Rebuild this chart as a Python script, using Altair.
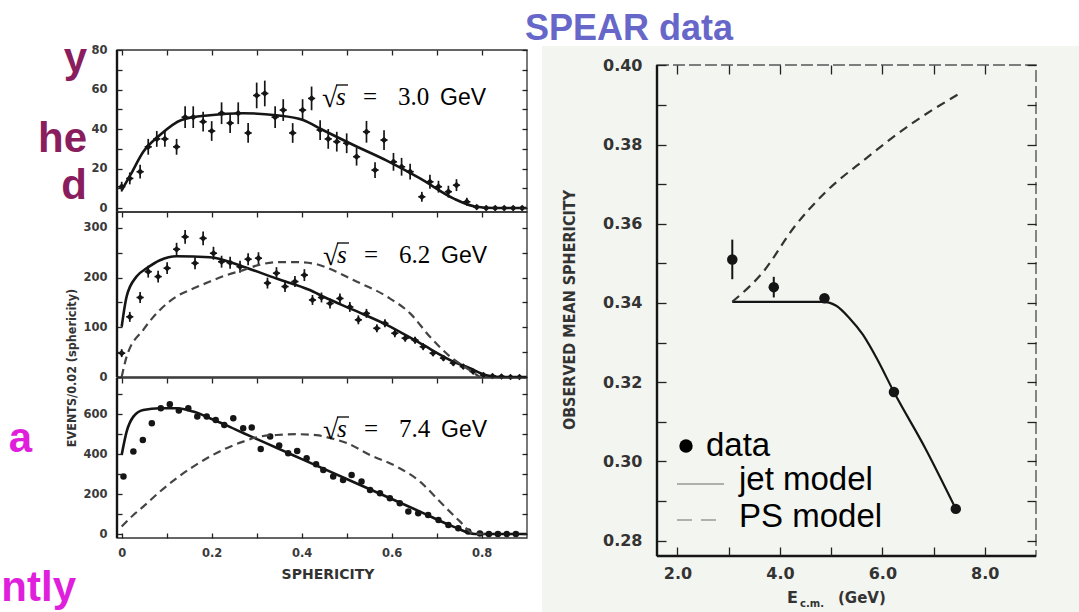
import altair as alt
import pandas as pd

W, H = 1079, 612

# ---------------- values ----------------
# left figure, panel 1: sqrt(s) = 3.0 GeV
p1_s = [0.0, 0.018, 0.041, 0.059, 0.078, 0.096, 0.122, 0.141, 0.159, 0.181, 0.2,
        0.222, 0.241, 0.259, 0.281, 0.3, 0.318, 0.341, 0.359, 0.38, 0.402,
        0.422, 0.441, 0.459, 0.478, 0.5, 0.522, 0.544, 0.563, 0.583, 0.604,
        0.622, 0.641, 0.667, 0.685, 0.704, 0.726, 0.744, 0.767, 0.789, 0.81,
        0.83, 0.85, 0.87, 0.89]
p1_n = [10.8, 15, 18.4, 31, 35, 35, 31, 46, 46, 43.7, 39,
        48, 43, 48, 38, 57, 58, 46, 49.6, 38, 49.6,
        55.5, 39.5, 35, 33.6, 32.8, 26, 38.6, 19.2, 34.4, 23.4,
        20.9, 18.4, 5.7, 13.3, 10.8, 8.3, 11.6, 3.2, 0.5, 0,
        0, 0, 0, 0]
p1_err = [2.5, 3, 3.5, 4, 4, 4, 4, 5.5, 5.5, 5, 5,
          5.5, 5, 5.5, 5, 6.5, 6.5, 5.5, 5.5, 5, 5.5,
          6, 5, 5, 5, 5, 4.5, 5.5, 4, 5, 4.5,
          4.5, 4, 2.5, 3.5, 3, 3, 3, 2, 1, 0,
          0, 0, 0, 0]
p1_jet_s = [0, 0.02, 0.048, 0.085, 0.133, 0.196, 0.27, 0.344, 0.403, 0.447, 0.515,
            0.589, 0.663, 0.737, 0.785, 0.83, 0.9]
p1_jet_n = [9, 17, 28.5, 37, 44.6, 47, 48, 47, 44.6, 39.5, 31.9,
            24, 15, 4.9, 0.8, 0, 0]

# panel 2: sqrt(s) = 6.2 GeV
p2_s = [0.0, 0.018, 0.041, 0.059, 0.081, 0.101, 0.122, 0.141, 0.163, 0.181, 0.204,
        0.222, 0.241, 0.263, 0.281, 0.304, 0.324, 0.344, 0.363, 0.385, 0.406,
        0.424, 0.444, 0.463, 0.485, 0.507, 0.526, 0.544, 0.567, 0.585, 0.607,
        0.63, 0.652, 0.67, 0.692, 0.715, 0.737, 0.759, 0.781, 0.804, 0.824,
        0.844, 0.864, 0.884]
p2_n = [48, 121, 160, 212, 202, 219, 257, 282, 229, 279, 249,
        232, 230, 222, 237, 239, 189, 209, 182, 192, 205,
        155, 160, 148, 158, 141, 115, 128, 98, 108, 88,
        78, 74, 61, 48, 38, 28, 21, 11, 4, 2,
        1, 0, 0]
p2_err = [8, 10, 11, 12, 12, 12, 13, 14, 12, 14, 13,
          12, 12, 12, 12, 12, 11, 12, 11, 11, 12,
          10, 10, 10, 10, 10, 9, 9, 8, 8, 8,
          7, 7, 7, 6, 6, 5, 4, 3, 2, 1,
          1, 0, 0]
p2_jet_s = [0, 0.011, 0.033, 0.056, 0.085, 0.122, 0.196, 0.27, 0.344, 0.418, 0.452,
            0.515, 0.589, 0.663, 0.737, 0.774, 0.808, 0.84, 0.9]
p2_jet_n = [101, 162, 202, 219, 235, 243, 241, 222, 198, 175, 160,
            135, 105, 68, 31, 17.5, 4, 0, 0]
p2_ps_s = [0, 0.011, 0.048, 0.085, 0.122, 0.159, 0.196, 0.233, 0.27, 0.307, 0.344,
           0.389, 0.433, 0.456, 0.515, 0.589, 0.641, 0.685, 0.73, 0.767, 0.796]
p2_ps_n = [0, 41, 95, 135, 162, 178, 192, 205, 215, 226, 231,
           231, 227, 220, 195, 162, 128, 81, 41, 17.5, 0]

# panel 3: sqrt(s) = 7.4 GeV
p3_s = [0.004, 0.026, 0.047, 0.067, 0.087, 0.107, 0.127, 0.148, 0.168, 0.189, 0.209,
        0.228, 0.248, 0.27, 0.289, 0.309, 0.33, 0.35, 0.37, 0.39, 0.411,
        0.432, 0.448, 0.47, 0.492, 0.511, 0.533, 0.552, 0.574, 0.596, 0.618,
        0.637, 0.659, 0.681, 0.704, 0.726, 0.748, 0.77, 0.796, 0.816, 0.836,
        0.856, 0.876]
p3_n = [287, 412, 470, 554, 629, 649, 617, 629, 587, 587, 570,
        545, 579, 529, 532, 425, 487, 442, 404, 415, 379,
        349, 320, 287, 270, 295, 262, 220, 204, 179, 154,
        112, 104, 95, 70, 45, 29, 12, 3, 0, 0,
        0, 0]
p3_jet_s = [0, 0.011, 0.026, 0.048, 0.085, 0.122, 0.159, 0.196, 0.233, 0.27, 0.307,
            0.344, 0.381, 0.418, 0.452, 0.515, 0.589, 0.663, 0.737, 0.785, 0.83, 0.9]
p3_jet_n = [395, 512, 587, 620, 629, 629, 612, 579, 543, 505, 468,
            431, 394, 357, 323, 260, 186, 112, 37, 0, 0, 0]
p3_ps_s = [0, 0.026, 0.048, 0.085, 0.122, 0.159, 0.196, 0.233, 0.27, 0.307, 0.344,
           0.389, 0.433, 0.463, 0.5, 0.552, 0.611, 0.663, 0.707, 0.752, 0.781, 0.807]
p3_ps_n = [37, 95, 137, 212, 279, 337, 387, 429, 462, 487, 495,
           499, 494, 480, 455, 395, 337, 262, 162, 62, 4, 0]

# right figure: observed mean sphericity vs E_cm
ecm = [3.07, 3.88, 4.87, 6.226, 7.434]
mean_sph = [0.351, 0.344, 0.3412, 0.3175, 0.288]
mean_err = [0.005, 0.0026, 0.001, 0.001, 0.0006]
jet_e = [3.07, 4.0, 4.85, 5.1, 5.35, 5.62, 5.9, 6.226, 6.83, 7.434]
jet_v = [0.3403, 0.3403, 0.3403, 0.3393, 0.3363, 0.3320, 0.3258, 0.3175, 0.3035, 0.288]
ps_e = [3.07, 3.676, 4.28, 4.884, 5.69, 6.562, 7.467]
ps_v = [0.3403, 0.3479, 0.3592, 0.3679, 0.3766, 0.3852, 0.3926]

# texts
energies = ["3.0", "6.2", "7.4"]
left_ytitle = "EVENTS/0.02 (sphericity)"
left_xtitle = "SPHERICITY"
right_ytitle = "OBSERVED  MEAN  SPHERICITY"
legend_labels = ["data", "jet model", "PS model"]
header = "SPEAR data"

# ---------------- helpers ----------------
one = pd.DataFrame({"k": [0]})
TICKFONT = "DejaVu Sans"
NARROW = "Liberation Sans Narrow, DejaVu Sans Condensed, Liberation Sans"
INK = "#151515"


def sc(dom, rng):
    return alt.Scale(domain=dom, range=rng, nice=False, zero=False)


def axis(orient, offset, values, tick, labels=False, expr="datum.label", pad=8,
         size=11, color="#3a3a3a"):
    kw = dict(orient=orient, offset=offset, values=values, tickSize=tick,
              domain=False, grid=False, title=None, tickColor="#222",
              tickWidth=1.3, labels=labels, zindex=2)
    if labels:
        kw.update(labelExpr=expr, labelPadding=pad, labelFont=TICKFONT,
                  labelFontSize=size, labelFontWeight="bold", labelColor=color,
                  labelOverlap=False, labelFlush=False, labelBound=False)
    return alt.Axis(**kw)


def txt(text, x, y, size, color="#000", font="Liberation Sans", weight="normal",
        align="left", style="normal", angle=None, baseline="alphabetic"):
    kw = dict(text=text, fontSize=size, color=color, font=font,
              fontWeight=weight, align=align, fontStyle=style, baseline=baseline)
    if angle is not None:
        kw["angle"] = angle
    return alt.Chart(one).mark_text(**kw).encode(x=alt.value(x), y=alt.value(y))


def hline(x1, x2, y, color, width, dash=None):
    kw = dict(color=color, strokeWidth=width)
    if dash:
        kw["strokeDash"] = dash
    return alt.Chart(one).mark_rule(**kw).encode(
        x=alt.value(x1), x2=alt.value(x2), y=alt.value(y))


layers = []

# background tint of the scanned right figure
layers.append(alt.Chart(one).mark_rect(color="#f3f5f0").encode(
    x=alt.value(542), x2=alt.value(W), y=alt.value(46), y2=alt.value(H)))

# ---------------- left figure ----------------
LXD = [-0.0104, 0.9007]
LXR = [117, 527]
XVALS = [0, 0.1, 0.2, 0.3, 0.4, 0.5, 0.6, 0.7, 0.8]
XEXPR = ("round(datum.value*10) % 2 == 0 ? (datum.value == 0 ? '0' : "
         "format(datum.value, '.1f')) : ''")


def panel(ydom, yrng, yvals, yexpr, s, n, err, js, jn, pss=None, psn=None,
          bottom=False, shape="diamond", psize=45):
    out = []
    xs = sc(LXD, LXR)
    ys = sc(ydom, yrng)
    bot_px, top_px = yrng
    fr = pd.DataFrame({"x1": [LXD[0]], "x2": [LXD[1]],
                       "y1": [ydom[0]], "y2": [ydom[1]]})
    out.append(alt.Chart(fr).mark_rect(fillOpacity=0, stroke="#333",
                                       strokeWidth=1.3).encode(
        x=alt.X("x1:Q", scale=xs,
                axis=axis("top", -(top_px + 5), XVALS, 5)),
        x2="x2:Q",
        y=alt.Y("y1:Q", scale=ys,
                axis=axis("left", -(LXR[0] + 5), yvals, 5, True, yexpr,
                          pad=10, size=11.5)),
        y2="y2:Q"))
    out.append(alt.Chart(fr).mark_rule(color=INK, strokeWidth=2.4).encode(
        x=alt.X("x1:Q", scale=xs, axis=None),
        y=alt.Y("y1:Q", scale=ys, axis=None), y2="y2:Q"))
    d = pd.DataFrame({"s": s, "n": n})
    if err is not None:
        d["lo"] = [a - b for a, b in zip(n, err)]
        d["hi"] = [a + b for a, b in zip(n, err)]
        d["sl"] = [a - 0.008 for a in s]
        d["sh"] = [a + 0.008 for a in s]
        out.append(alt.Chart(d).mark_rule(color=INK, strokeWidth=1.7).encode(
            x=alt.X("s:Q", scale=xs, axis=None),
            y=alt.Y("lo:Q", scale=ys,
                    axis=axis("right", (LXR[1] - 5) - W, yvals, 5)),
            y2="hi:Q"))
        out.append(alt.Chart(d).mark_rule(color=INK, strokeWidth=1.5).encode(
            x=alt.X("sl:Q", scale=xs, axis=None), x2="sh:Q",
            y=alt.Y("n:Q", scale=ys, axis=None)))
        ypt_axis = None
    else:
        ypt_axis = axis("right", (LXR[1] - 5) - W, yvals, 5)
    out.append(alt.Chart(d).mark_point(shape=shape, filled=True, size=psize,
                                       color=INK, opacity=1).encode(
        x=alt.X("s:Q", scale=xs,
                axis=axis("bottom", (bot_px - 5) - H, XVALS, 5, True, XEXPR,
                          pad=9, size=11.5) if bottom else None),
        y=alt.Y("n:Q", scale=ys, axis=ypt_axis)))
    dj = pd.DataFrame({"s": js, "n": jn})
    out.append(alt.Chart(dj).mark_line(color=INK, strokeWidth=2.6,
                                       interpolate="monotone").encode(
        x=alt.X("s:Q", scale=xs, axis=None),
        y=alt.Y("n:Q", scale=ys, axis=None)))
    if pss is not None:
        dp = pd.DataFrame({"s": pss, "n": psn})
        out.append(alt.Chart(dp).mark_line(color="#444", strokeWidth=2.2,
                                           strokeDash=[8, 5],
                                           interpolate="monotone").encode(
            x=alt.X("s:Q", scale=xs, axis=None),
            y=alt.Y("n:Q", scale=ys, axis=None)))
    return out


layers += panel([-2, 80], [212, 50], list(range(0, 81, 10)),
                "datum.value % 20 == 0 ? format(datum.value, 'd') : ''",
                p1_s, p1_n, p1_err, p1_jet_s, p1_jet_n)
layers += panel([0, 332], [377, 212], list(range(0, 301, 50)),
                "datum.value % 100 == 0 ? format(datum.value, 'd') : ''",
                p2_s, p2_n, p2_err, p2_jet_s, p2_jet_n, p2_ps_s, p2_ps_n)
layers += panel([-20, 780], [538, 378], list(range(0, 701, 100)),
                "datum.value % 200 == 0 ? format(datum.value, 'd') : ''",
                p3_s, p3_n, None, p3_jet_s, p3_jet_n, p3_ps_s, p3_ps_n,
                bottom=True, shape="circle", psize=42)


def sqrt_label(x0, base, val):
    return [
        txt("\u221a", x0, base + 2, 28, font="Liberation Serif"),
        hline(x0 + 14, x0 + 26, base - 20, "#000", 1.3),
        txt("s", x0 + 14, base, 25, font="Liberation Serif", style="italic"),
        txt("=", x0 + 48, base, 25, font="Liberation Serif", align="center"),
        txt(val, x0 + 76, base, 25, font="Liberation Serif"),
        txt("GeV", x0 + 118, base, 23, font="Liberation Sans"),
    ]


layers += sqrt_label(322, 105, energies[0])
layers += sqrt_label(323, 263, energies[1])
layers += sqrt_label(323, 437, energies[2])

layers.append(txt(left_xtitle, 328, 579, 14, color="#333", font=TICKFONT,
                  weight="bold", align="center"))
layers.append(txt(left_ytitle, 72, 368, 12.5, color="#333", font=NARROW,
                  weight="bold", align="center", angle=270, baseline="middle"))

# ---------------- right figure ----------------
RXD = [1.6, 9.0]
RXR = [657, 1036]
RYD = [0.2761, 0.4001]
RYR = [556, 65]
rxs = sc(RXD, RXR)
rys = sc(RYD, RYR)
RY_VALS = [0.28, 0.29, 0.30, 0.31, 0.32, 0.33, 0.34, 0.35, 0.36, 0.37, 0.38, 0.39, 0.40]
RX_VALS = [2, 3, 4, 5, 6, 7, 8]
rfr = pd.DataFrame({"x1": [RXD[0]], "x2": [RXD[1]], "y1": [RYD[0]], "y2": [RYD[1]]})
layers.append(alt.Chart(rfr).mark_rect(fillOpacity=0, stroke="#555",
                                       strokeWidth=1.4, strokeDash=[12, 4]).encode(
    x=alt.X("x1:Q", scale=rxs,
            axis=axis("bottom", (RYR[0] - 9) - H, RX_VALS, 9, True,
                      "datum.value % 2 == 0 ? format(datum.value, '.1f') : ''",
                      pad=9, size=16, color="#333")),
    x2="x2:Q",
    y=alt.Y("y1:Q", scale=rys,
            axis=axis("left", -(RXR[0] + 9), RY_VALS, 9, True,
                      "round(datum.value*100) % 2 == 0 ? format(datum.value, '.2f') : ''",
                      pad=15, size=16, color="#333")),
    y2="y2:Q"))
layers.append(alt.Chart(rfr).mark_rule(color=INK, strokeWidth=2.4).encode(
    x=alt.X("x1:Q", scale=rxs, axis=None),
    y=alt.Y("y1:Q", scale=rys, axis=None), y2="y2:Q"))
layers.append(alt.Chart(rfr).mark_rule(color=INK, strokeWidth=2.4).encode(
    x=alt.X("x1:Q", scale=rxs, axis=None), x2="x2:Q",
    y=alt.Y("y1:Q", scale=rys, axis=None)))

rd = pd.DataFrame({"e": ecm, "v": mean_sph})
rd["lo"] = [a - b for a, b in zip(mean_sph, mean_err)]
rd["hi"] = [a + b for a, b in zip(mean_sph, mean_err)]
layers.append(alt.Chart(rd).mark_rule(color=INK, strokeWidth=2).encode(
    x=alt.X("e:Q", scale=rxs, axis=axis("top", -(RYR[1] + 9), RX_VALS, 9)),
    y=alt.Y("lo:Q", scale=rys,
            axis=axis("right", (RXR[1] - 9) - W, RY_VALS, 9)),
    y2="hi:Q"))
layers.append(alt.Chart(pd.DataFrame({"e": jet_e, "v": jet_v})).mark_line(
    color=INK, strokeWidth=2.2, interpolate="monotone").encode(
    x=alt.X("e:Q", scale=rxs, axis=None),
    y=alt.Y("v:Q", scale=rys, axis=None)))
layers.append(alt.Chart(pd.DataFrame({"e": ps_e, "v": ps_v})).mark_line(
    color="#333", strokeWidth=2.2, strokeDash=[9, 6], interpolate="monotone").encode(
    x=alt.X("e:Q", scale=rxs, axis=None),
    y=alt.Y("v:Q", scale=rys, axis=None)))
layers.append(alt.Chart(rd).mark_point(shape="circle", filled=True, size=110,
                                       color=INK, opacity=1).encode(
    x=alt.X("e:Q", scale=rxs, axis=None),
    y=alt.Y("v:Q", scale=rys, axis=None)))

# legend
layers.append(alt.Chart(one).mark_point(shape="circle", filled=True, size=180,
                                        color="#000", opacity=1).encode(
    x=alt.value(686), y=alt.value(446)))
layers.append(txt(legend_labels[0], 706, 456, 33))
layers.append(hline(677, 724, 484, "#999", 1.5))
layers.append(txt(legend_labels[1], 739, 490, 33))
layers.append(hline(677, 719, 520, "#999", 1.5, [15, 9]))
layers.append(txt(legend_labels[2], 739, 527, 33))

# axis titles of the right figure
layers.append(txt(right_ytitle, 570, 310, 16, color="#333", font=NARROW,
                  weight="bold", align="center", angle=270, baseline="middle"))
layers.append(txt("E", 787, 603, 16, color="#333", font=TICKFONT, weight="bold"))
layers.append(txt("c.m.", 800, 607, 10, color="#333", font=TICKFONT, weight="bold"))
layers.append(txt("(GeV)", 838, 603, 15, color="#333", font=TICKFONT, weight="bold"))

# slide texts
layers.append(txt(header, 733, 40, 36, color="#6767c9", weight="bold", align="right"))
for t, yb in [("y", 72), ("he", 152), ("d", 199)]:
    layers.append(txt(t, 87, yb, 42, color="#8a1d5d", weight="bold", align="right"))
layers.append(txt("a", 32, 452, 42, color="#e01fdc", weight="bold", align="right"))
layers.append(txt("ntly", 76, 601, 42, color="#e01fdc", weight="bold", align="right"))

chart = alt.layer(*layers).resolve_scale(
    x="independent", y="independent"
).resolve_axis(
    x="independent", y="independent"
).properties(
    width=W, height=H, padding=0, background="white",
    autosize=alt.AutoSizeParams(type="none"),
).configure_view(strokeWidth=0)

chart.save("out.html", embed_options={"renderer": "svg", "actions": False})
